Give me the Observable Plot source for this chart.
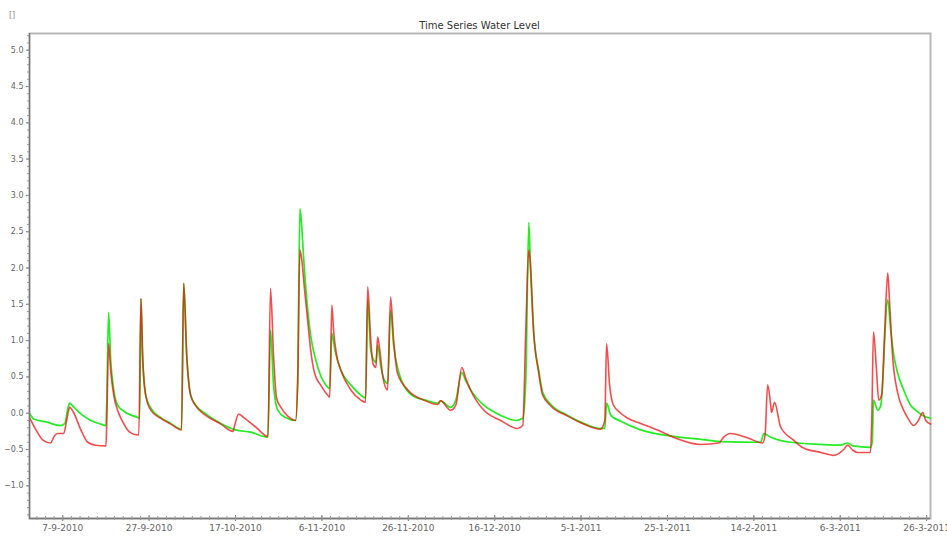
<!DOCTYPE html>
<html><head><meta charset="utf-8">
<script src="https://cdn.jsdelivr.net/npm/d3@7"></script>
<script src="https://cdn.jsdelivr.net/npm/@observablehq/plot@0.6"></script>
<style>
body{margin:0;background:#fff;font-family:"DejaVu Sans",sans-serif;}
#wrap{position:relative;width:947px;height:544px;overflow:hidden;}
#title{position:absolute;top:20px;left:29px;width:901px;text-align:center;font-size:10px;color:#333;}
#unit{position:absolute;top:11px;left:9px;font-size:8px;color:#888;}
#chart{position:absolute;top:0;left:0;}
</style></head><body>
<div id="wrap"><div id="chart"></div><div id="unit">[]</div><div id="title">Time Series Water Level</div></div>
<script>
// Day offsets are counted from 7-9-2010
const baseDate = "2010-09-07";
const xDomainDays = [-7.7, 200.9];
const yDomain = [-1.45, 5.23];
const yTickValues = [-1.0, -0.5, 0.0, 0.5, 1.0, 1.5, 2.0, 2.5, 3.0, 3.5, 4.0, 4.5, 5.0];
const xTickDays = [0, 20, 40, 60, 80, 100, 120, 140, 160, 180, 200];

const greenDays = [-7.6,-6.7,-3.9,-0.5,0.5,1.2,1.6,2.3,4.2,6.5,8.8,10.0,10.2,10.6,11.1,11.8,12.7,14.6,17.4,17.8,18.1,18.5,19.2,20.4,22.7,25.0,27.5,28.0,28.7,29.6,30.8,33.1,36.6,40.0,43.5,47.5,48.1,48.8,49.8,51.6,53.9,54.4,54.9,55.3,55.8,56.5,57.4,58.6,59.7,60.9,61.8,62.3,63.0,64.4,66.7,69.0,70.1,70.6,71.3,72.0,72.5,72.9,73.6,74.5,75.2,75.9,76.6,77.8,79.4,81.7,84.0,86.8,87.5,89.8,91.0,92.4,93.3,94.9,97.5,101.4,104.9,106.5,107.2,107.9,108.3,109.0,110.2,111.1,113.0,116.9,120.6,124.5,125.5,125.9,126.9,129.2,133.8,141.4,147.7,152.3,161.6,162.3,163.9,168.5,175.5,180.1,181.7,182.9,187.0,187.4,187.7,188.7,189.4,191.0,191.7,192.4,193.3,194.7,196.3,197.5,199.1,200.9];
const greenLevels = [-0.01,-0.08,-0.12,-0.17,-0.14,0.07,0.14,0.10,-0.01,-0.10,-0.15,-0.17,0.18,1.39,0.73,0.32,0.11,0.01,-0.06,-0.07,1.58,0.73,0.25,0.07,-0.06,-0.14,-0.22,1.79,0.80,0.25,0.11,-0.01,-0.14,-0.23,-0.26,-0.33,1.14,0.39,0.04,-0.06,-0.10,0.45,2.82,2.59,2.11,1.56,1.07,0.73,0.52,0.39,0.34,1.10,0.87,0.59,0.39,0.25,0.21,1.56,0.87,0.73,0.70,0.94,0.66,0.45,0.41,1.42,0.94,0.56,0.34,0.22,0.18,0.14,0.17,0.08,0.18,0.56,0.45,0.28,0.11,-0.03,-0.10,-0.07,0.45,2.63,1.97,1.14,0.59,0.29,0.12,-0.03,-0.14,-0.21,-0.21,0.14,-0.03,-0.11,-0.23,-0.32,-0.36,-0.39,-0.40,-0.28,-0.33,-0.40,-0.43,-0.44,-0.41,-0.45,-0.47,-0.40,0.18,0.04,0.11,1.56,1.14,0.80,0.55,0.32,0.11,0.04,-0.03,-0.07];

const redDays = [-7.6,-6.2,-4.6,-2.8,-2.1,-1.2,0.2,0.9,1.6,2.5,4.2,5.8,7.6,10.0,10.2,10.6,11.1,11.8,12.7,13.9,15.0,16.4,17.6,18.1,18.5,19.2,20.4,22.7,25.0,27.5,28.0,28.7,29.6,30.8,33.1,36.6,39.4,39.8,40.7,41.9,44.7,47.5,48.1,48.8,49.5,50.5,52.1,53.9,54.4,54.9,55.3,56.0,56.7,57.4,58.3,59.7,61.3,61.8,62.3,62.7,63.4,64.4,66.7,69.0,70.1,70.6,71.3,71.8,72.5,72.9,73.4,74.1,75.2,75.9,76.6,77.5,79.9,83.6,86.8,87.5,89.8,91.0,92.4,93.3,94.4,97.5,101.4,105.3,106.5,107.2,107.9,108.3,109.0,110.2,111.1,113.0,116.9,120.6,124.5,125.5,125.9,126.6,127.5,129.2,130.8,133.8,137.7,141.4,147.7,151.9,153.0,154.6,158.6,162.0,162.6,163.2,163.9,164.1,164.8,166.2,169.2,171.5,175.5,178.5,180.8,181.7,182.9,184.0,187.0,187.3,187.7,188.4,188.9,189.6,190.3,191.0,191.4,192.1,193.3,194.7,195.6,197.0,198.1,199.1,199.8,200.9];
const redLevels = [-0.07,-0.23,-0.37,-0.41,-0.33,-0.28,-0.28,-0.10,0.08,0.01,-0.23,-0.40,-0.44,-0.45,-0.10,0.96,0.59,0.25,0.04,-0.12,-0.23,-0.29,-0.30,1.58,0.80,0.25,0.04,-0.07,-0.15,-0.23,1.79,0.80,0.25,0.10,-0.03,-0.15,-0.25,-0.17,-0.01,-0.06,-0.19,-0.32,1.72,0.80,0.21,0.08,-0.04,-0.10,0.45,2.25,2.13,1.69,1.28,0.87,0.55,0.39,0.25,0.22,1.49,1.14,0.80,0.59,0.32,0.18,0.15,1.74,1.01,0.69,0.63,1.05,0.87,0.50,0.32,1.60,1.01,0.55,0.32,0.18,0.12,0.17,0.04,0.11,0.63,0.48,0.32,0.04,-0.10,-0.21,-0.17,1.14,2.25,2.04,1.14,0.55,0.25,0.10,-0.04,-0.15,-0.22,-0.10,0.96,0.39,0.11,0.00,-0.07,-0.14,-0.23,-0.33,-0.43,-0.41,-0.33,-0.28,-0.34,-0.41,-0.30,0.39,0.11,0.01,0.15,-0.19,-0.37,-0.48,-0.54,-0.58,-0.50,-0.44,-0.51,-0.54,-0.54,-0.10,1.12,0.59,0.18,0.25,1.14,1.93,1.56,0.80,0.28,0.04,-0.06,-0.17,-0.10,0.01,-0.10,-0.15];

const base = d3.utcParse("%Y-%m-%d")(baseDate);
const toDate = d => new Date(+base + d * 864e5);
const green = greenDays.map((d, i) => ({date: toDate(d), level: greenLevels[i]}));
const red = redDays.map((d, i) => ({date: toDate(d), level: redLevels[i]}));
const majorX = xTickDays.map(toDate);
const minorX = d3.range(-6, 201, 2).map(toDate);
const minorY = d3.range(-14, 53).map(v => v / 10);
const fmt = d3.utcFormat("%-d-%-m-%Y");

const chart = Plot.plot({
  width: 947, height: 544,
  marginTop: 33, marginBottom: 26, marginLeft: 29, marginRight: 17,
  style: {fontFamily: "DejaVu Sans, sans-serif", fontSize: "8px", color: "#666", background: "transparent", overflow: "visible"},
  x: {type: "utc", domain: xDomainDays.map(toDate), axis: null, label: null},
  y: {domain: yDomain, axis: null, label: null},
  marks: [
    Plot.frame({stroke: "#b8b8b8", strokeWidth: 2}),
    Plot.line(green, {x: "date", y: "level", stroke: "#22ee22", strokeWidth: 1.7, curve: "monotone-x"}),
    Plot.line(red, {x: "date", y: "level", stroke: "#ee1111", strokeOpacity: 0.75, strokeWidth: 1.6, curve: "monotone-x"}),
    Plot.ruleX([toDate(xDomainDays[0])], {stroke: "#777", strokeWidth: 1.3}),
    Plot.ruleY([yDomain[0]], {stroke: "#777", strokeWidth: 1.3}),
    Plot.axisY({ticks: yTickValues, tickFormat: d3.format(".1f"), tickSize: 3, tickPadding: 3, stroke: "#777", fill: "#666", fontSize: 8, label: null}),
    Plot.axisY({ticks: minorY, tickFormat: () => "", tickSize: 2, stroke: "#999", label: null}),
    Plot.axisX({ticks: majorX, tickFormat: fmt, tickSize: 3, tickPadding: 3, stroke: "#777", fill: "#666", fontSize: 9, label: null}),
    Plot.axisX({ticks: majorX, tickFormat: () => "", tickSize: 3, dy: -3, stroke: "#777", label: null}),
    Plot.axisX({ticks: minorX, tickFormat: () => "", tickSize: 2, stroke: "#999", label: null}),
    Plot.axisX({ticks: minorX, tickFormat: () => "", tickSize: 2, dy: -2, stroke: "#999", label: null})
  ]
});
document.getElementById("chart").appendChild(chart);
</script>
</body></html>
